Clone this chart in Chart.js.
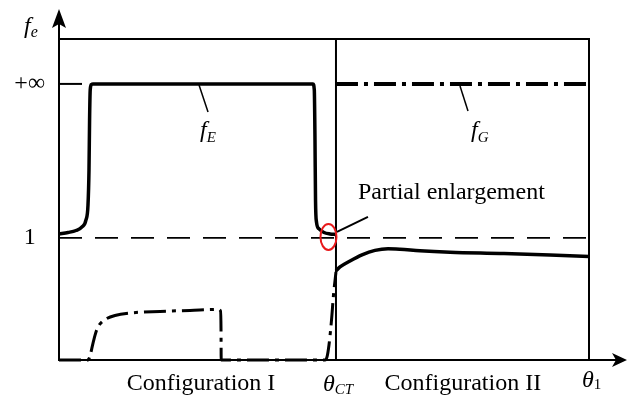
<!DOCTYPE html>
<html>
<head>
<meta charset="utf-8">
<script src="https://cdn.jsdelivr.net/npm/chart.js@4.4.0/dist/chart.umd.min.js"></script>
<style>
html,body{margin:0;padding:0;background:#fff;}
#wrap{width:628px;height:396px;position:relative;}
</style>
</head>
<body>
<div id="wrap"><canvas id="c" width="628" height="396"></canvas></div>
<script>
// θ runs from 0 to θ1 (= THETA_MAX); INF_LEVEL is the plotted level that stands for +∞.
const THETA_MAX = 100;
const THETA_CT = 52.26;
const Y_MAX = 2.63;
const INF_LEVEL = 2.262;

const yTickValues = [1, INF_LEVEL];
const yTickLabels = ['1', '+\u221E'];
const xTickValues = [26.8, 76.2];
const xTickLabels = ['Configuration I', 'Configuration II'];

// f_E : configuration I
const fE_theta = [0, 1.70, 3.21, 4.34, 5.09, 5.47, 5.66, 5.77, 5.89, 6.13, 6.42, 47.92, 48.17, 48.30, 48.40, 48.58, 49.06, 50.0, 51.13, 52.26];
const fE_value = [1.033, 1.045, 1.061, 1.090, 1.148, 1.270, 1.557, 1.967, 2.213, 2.258, 2.262, 2.262, 2.213, 1.803, 1.311, 1.131, 1.074, 1.045, 1.033, 1.029];

// f_G : low branch in configuration I (dash-dot)
const fGlow_theta = [0, 5.47, 5.85, 6.42, 6.98, 7.74, 8.87, 10.57, 13.40, 19.06, 24.72, 30.0, 30.47, 30.57, 30.6, 50.19, 50.57, 50.94, 51.42, 51.79, 52.26];
const fGlow_value = [0, 0, 0.033, 0.139, 0.230, 0.295, 0.336, 0.365, 0.385, 0.398, 0.406, 0.414, 0.402, 0.246, 0, 0, 0.025, 0.123, 0.328, 0.533, 0.721];

// f_G : configuration II (solid)
const fG2_theta = [52.26, 53.02, 54.91, 57.17, 59.62, 62.08, 64.34, 68.11, 73.77, 83.21, 92.64, 100];
const fG2_value = [0.730, 0.762, 0.811, 0.861, 0.898, 0.912, 0.908, 0.895, 0.883, 0.873, 0.861, 0.848];

// f_G : infinite branch in configuration II (dash-dot)
const fGinf_theta = [THETA_CT, THETA_MAX];
const fGinf_value = [INF_LEVEL, INF_LEVEL];

// reference level f_e = 1
const unit_theta = [0, THETA_MAX];
const unit_value = [1, 1];

// boundary between the two configurations
const ct_theta = [THETA_CT, THETA_CT];
const ct_value = [0, Y_MAX];

// short mark at the +∞ level on the vertical axis
const infMark_theta = [0, 4.34];
const infMark_value = [INF_LEVEL, INF_LEVEL];

const zip = (xs, ys) => xs.map((x, i) => ({ x: x, y: ys[i] }));

const SERIF = "'Liberation Serif', 'Times New Roman', serif";
Chart.defaults.font.family = SERIF;
Chart.defaults.color = '#000';

const DASH_DOT = [22, 6, 4, 6];

function lineSet(data, width, dash, smooth) {
  return {
    data: data,
    showLine: true,
    borderColor: '#000',
    backgroundColor: '#000',
    borderWidth: width,
    borderDash: dash || [],
    pointRadius: 0,
    pointHoverRadius: 0,
    fill: false,
    clip: false,
    borderCapStyle: 'butt',
    borderJoinStyle: 'round',
    cubicInterpolationMode: smooth ? 'monotone' : 'default',
    tension: 0
  };
}

function subLabel(ctx, main, sub, x, y, size, subSize, subDy, mainItalic, subItalic) {
  ctx.font = (mainItalic ? 'italic ' : '') + size + 'px ' + SERIF;
  ctx.textAlign = 'left';
  ctx.textBaseline = 'alphabetic';
  ctx.fillText(main, x, y);
  const w = ctx.measureText(main).width;
  ctx.font = (subItalic ? 'italic ' : '') + subSize + 'px ' + SERIF;
  ctx.fillText(sub, x + w, y + subDy);
}

const decor = {
  id: 'decor',
  afterDraw(chart) {
    const ctx = chart.ctx;
    const a = chart.chartArea;
    const xs = chart.scales.x, ys = chart.scales.y;
    const px = v => xs.getPixelForValue(v);
    const py = v => ys.getPixelForValue(v);
    ctx.save();
    ctx.strokeStyle = '#000';
    ctx.fillStyle = '#000';

    // frame: top and right edges
    ctx.lineWidth = 2;
    ctx.beginPath();
    ctx.moveTo(a.left, a.top);
    ctx.lineTo(a.right, a.top);
    ctx.lineTo(a.right, a.bottom);
    ctx.stroke();

    // axis extensions with arrowheads
    ctx.beginPath();
    ctx.moveTo(a.left, a.top);
    ctx.lineTo(a.left, a.top - 16);
    ctx.moveTo(a.right, a.bottom);
    ctx.lineTo(a.right + 28, a.bottom);
    ctx.stroke();
    ctx.beginPath();
    ctx.moveTo(a.left, a.top - 30);
    ctx.lineTo(a.left + 7, a.top - 11);
    ctx.lineTo(a.left, a.top - 15);
    ctx.lineTo(a.left - 7, a.top - 11);
    ctx.closePath();
    ctx.fill();
    ctx.beginPath();
    ctx.moveTo(a.right + 38, a.bottom);
    ctx.lineTo(a.right + 23, a.bottom - 7);
    ctx.lineTo(a.right + 27, a.bottom);
    ctx.lineTo(a.right + 23, a.bottom + 7);
    ctx.closePath();
    ctx.fill();

    // vertical axis name f_e
    subLabel(ctx, 'f', 'e', a.left - 35, a.top - 6, 24, 16, 4, true, true);

    // curve names with leaders
    ctx.lineWidth = 1.5;
    const eX = px(26.42), eY = py(INF_LEVEL);
    ctx.beginPath();
    ctx.moveTo(eX, eY + 1);
    ctx.lineTo(eX + 9, eY + 28);
    ctx.stroke();
    subLabel(ctx, 'f', 'E', eX + 1, eY + 53, 24, 15, 5, true, true);

    const gX = px(75.66), gY = py(INF_LEVEL);
    ctx.beginPath();
    ctx.moveTo(gX, gY + 2);
    ctx.lineTo(gX + 8, gY + 27);
    ctx.stroke();
    subLabel(ctx, 'f', 'G', gX + 11, gY + 53, 24, 15, 5, true, true);

    // partial enlargement marker
    const ctX = px(THETA_CT), oneY = py(1);
    ctx.strokeStyle = '#e8191b';
    ctx.lineWidth = 2;
    ctx.beginPath();
    ctx.ellipse(ctX - 7.5, oneY - 1, 8, 13, 0, 0, Math.PI * 2);
    ctx.stroke();
    ctx.strokeStyle = '#000';
    ctx.lineWidth = 2;
    ctx.beginPath();
    ctx.moveTo(ctX + 1, oneY - 6);
    ctx.lineTo(ctX + 32, oneY - 21);
    ctx.stroke();
    ctx.font = '24px ' + SERIF;
    ctx.textAlign = 'left';
    ctx.textBaseline = 'alphabetic';
    ctx.fillText('Partial enlargement', ctX + 22, oneY - 38.5);

    // θ labels under the axis
    subLabel(ctx, '\u03B8', 'CT', ctX - 13, a.bottom + 31, 24, 15, 3, true, true);
    subLabel(ctx, '\u03B8', '1', px(THETA_MAX) - 7, a.bottom + 27, 24, 15, 2, true, false);

    ctx.restore();
  }
};

new Chart(document.getElementById('c').getContext('2d'), {
  type: 'scatter',
  data: {
    datasets: [
      lineSet(zip(fE_theta, fE_value), 3.5, null, true),
      lineSet(zip(fG2_theta, fG2_value), 3.5, null, true),
      lineSet(zip(fGinf_theta, fGinf_value), 4, DASH_DOT, false),
      lineSet(zip(fGlow_theta, fGlow_value), 3, DASH_DOT, true),
      lineSet(zip(unit_theta, unit_value), 1.8, [23, 13], false),
      lineSet(zip(ct_theta, ct_value), 2, null, false),
      lineSet(zip(infMark_theta, infMark_value), 2, null, false)
    ]
  },
  options: {
    responsive: false,
    animation: false,
    events: [],
    layout: { padding: { top: 39, right: 39, left: 0, bottom: 0 } },
    plugins: { legend: { display: false }, tooltip: { enabled: false } },
    scales: {
      x: {
        type: 'linear',
        min: 0,
        max: THETA_MAX,
        grid: { display: false, drawTicks: false },
        border: { display: true, color: '#000', width: 2 },
        afterBuildTicks: s => { s.ticks = xTickValues.map(v => ({ value: v })); },
        afterFit: s => { s.height = 36; },
        ticks: {
          autoSkip: false,
          maxRotation: 0,
          padding: 9,
          color: '#000',
          font: { size: 24, family: SERIF },
          callback: (v, i) => xTickLabels[i]
        }
      },
      y: {
        type: 'linear',
        min: 0,
        max: Y_MAX,
        grid: { display: false, drawTicks: false },
        border: { display: true, color: '#000', width: 2 },
        afterBuildTicks: s => { s.ticks = yTickValues.map(v => ({ value: v })); },
        afterFit: s => { s.width = 59; },
        ticks: {
          crossAlign: 'center',
          padding: 14,
          color: '#000',
          font: { size: 24, family: SERIF },
          callback: (v, i) => yTickLabels[i]
        }
      }
    }
  },
  plugins: [decor]
});
</script>
</body>
</html>
